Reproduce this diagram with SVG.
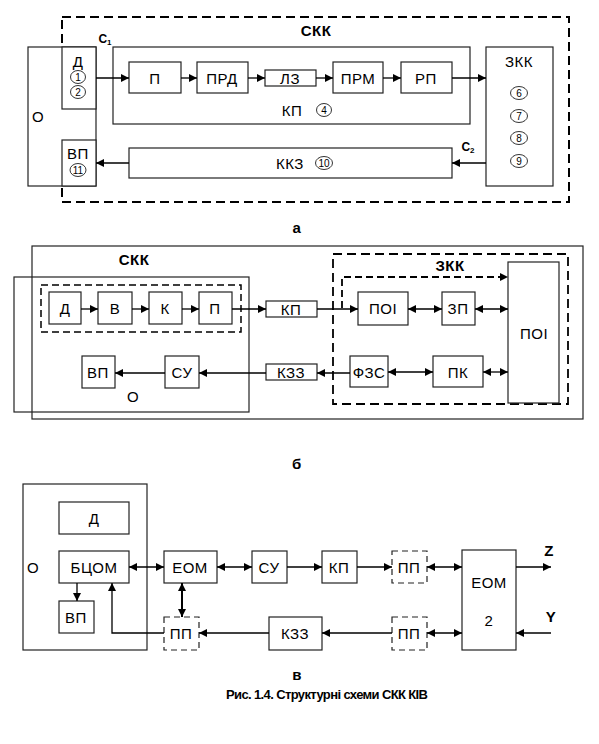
<svg xmlns="http://www.w3.org/2000/svg" width="599" height="744" viewBox="0 0 599 744">
<defs>
<marker id="ah" viewBox="0 0 10 10" refX="10" refY="5" markerWidth="9" markerHeight="8" markerUnits="userSpaceOnUse" orient="auto-start-reverse"><path d="M0,0 L10,5 L0,10 z" fill="#000"/></marker>
<style>
text{font-family:"Liberation Sans",Arial,sans-serif;font-size:15px;letter-spacing:0.5px;fill:#000;text-anchor:middle;dominant-baseline:central}
.b{font-weight:bold}
.n{font-size:10px;letter-spacing:0}
.box{fill:#fff;stroke:#222;stroke-width:1.2}
.dbox{fill:none;stroke:#000;stroke-width:2;stroke-dasharray:9,5}
.dpp{fill:#fff;stroke:#222;stroke-width:1.2;stroke-dasharray:6,4}
.c{fill:#fff;stroke:#000;stroke-width:0.8}
.a{fill:none;stroke:#000;stroke-width:1.3;marker-end:url(#ah)}
.aa{fill:none;stroke:#000;stroke-width:1.3;marker-end:url(#ah);marker-start:url(#ah)}
</style>
</defs>
<rect width="599" height="744" fill="#fff"/>

<!-- ===== Part a ===== -->
<g id="a-skk"><rect class="dbox" x="62" y="17" width="507" height="185"/><text class="b" x="316" y="30">СКК</text></g>
<g id="a-o"><rect class="box" x="28" y="47" width="68" height="139"/><text x="38" y="116">О</text></g>
<g id="a-d"><rect class="box" x="62" y="47" width="34" height="62"/><text x="78" y="61">Д</text>
<ellipse class="c" cx="78" cy="77" rx="7.5" ry="6.5"/><text class="n" x="78" y="77">1</text>
<ellipse class="c" cx="78" cy="92" rx="7.5" ry="6.5"/><text class="n" x="78" y="92">2</text></g>
<g id="a-vp"><rect class="box" x="62" y="140" width="34" height="46"/><text x="78" y="153">ВП</text>
<ellipse class="c" cx="78" cy="170" rx="8" ry="6.5"/><text class="n" x="78" y="170">11</text></g>
<g id="a-kp"><rect class="box" x="113" y="47" width="357" height="77"/><text x="292" y="110">КП</text>
<ellipse class="c" cx="324" cy="110" rx="7.5" ry="6.5"/><text class="n" x="324" y="110">4</text></g>
<g id="a-p"><rect class="box" x="129" y="62" width="52" height="31"/><text x="155" y="78">П</text></g>
<g id="a-prd"><rect class="box" x="197" y="62" width="51" height="31"/><text x="222" y="78">ПРД</text></g>
<g id="a-lz"><rect class="box" x="265" y="70" width="51" height="16"/><text x="290" y="78">ЛЗ</text></g>
<g id="a-prm"><rect class="box" x="333" y="62" width="50" height="31"/><text x="358" y="78">ПРМ</text></g>
<g id="a-rp"><rect class="box" x="401" y="62" width="51" height="31"/><text x="426" y="78">РП</text></g>
<g id="a-zkk"><rect class="box" x="486" y="47" width="67" height="139"/><text x="519" y="61">ЗКК</text>
<ellipse class="c" cx="519" cy="93" rx="8.5" ry="6.5"/><text class="n" x="519" y="93">6</text>
<ellipse class="c" cx="519" cy="116" rx="8.5" ry="6.5"/><text class="n" x="519" y="116">7</text>
<ellipse class="c" cx="519" cy="138" rx="8.5" ry="6.5"/><text class="n" x="519" y="138">8</text>
<ellipse class="c" cx="519" cy="161" rx="8.5" ry="6.5"/><text class="n" x="519" y="161">9</text></g>
<g id="a-kkz"><rect class="box" x="129" y="148" width="323" height="30"/><text x="290" y="163">ККЗ</text>
<ellipse class="c" cx="324" cy="163" rx="8.5" ry="6.5"/><text class="n" x="324" y="163">10</text></g>
<text class="b" x="105" y="39" style="font-size:12px;letter-spacing:0">C<tspan style="font-size:8px" dy="3">1</tspan></text>
<text class="b" x="468" y="147" style="font-size:12px;letter-spacing:0">C<tspan style="font-size:8px" dy="3">2</tspan></text>
<text class="b" x="297" y="227">а</text>

<g id="a-conn">
<path class="a" d="M96,78 H129"/>
<path class="a" d="M181,78 H197"/>
<path class="a" d="M248,78 H265"/>
<path class="a" d="M316,78 H333"/>
<path class="a" d="M383,78 H401"/>
<path class="a" d="M452,78 H486"/>
<path class="a" d="M486,163 H452"/>
<path class="a" d="M129,163 H96"/>
</g>

<!-- ===== Part b ===== -->
<g id="b-skk"><rect class="box" x="32" y="246" width="551" height="173" style="fill:none"/><text class="b" x="134" y="259">СКК</text></g>
<g id="b-o"><rect class="box" x="14" y="277" width="235" height="135" style="fill:none"/><text x="133" y="396">О</text></g>
<rect class="dbox" x="41" y="285" width="200" height="47" style="stroke-width:1.5;stroke-dasharray:7,4"/>
<g id="b-d"><rect class="box" x="49" y="292" width="32" height="32"/><text x="65" y="308">Д</text></g>
<g id="b-v"><rect class="box" x="98" y="292" width="34" height="32"/><text x="115" y="308">В</text></g>
<g id="b-k"><rect class="box" x="149" y="292" width="33" height="32"/><text x="165" y="308">К</text></g>
<g id="b-p"><rect class="box" x="199" y="292" width="33" height="32"/><text x="215" y="308">П</text></g>
<g id="b-kp"><rect class="box" x="266" y="301" width="51" height="16"/><text x="291" y="309">КП</text></g>
<g id="b-vp"><rect class="box" x="82" y="356" width="33" height="32"/><text x="98" y="372">ВП</text></g>
<g id="b-su"><rect class="box" x="165" y="356" width="34" height="32"/><text x="182" y="372">СУ</text></g>
<g id="b-kzz"><rect class="box" x="266" y="364" width="51" height="16"/><text x="291" y="372">КЗЗ</text></g>
<g id="b-zkk"><rect class="dbox" x="333" y="254" width="235" height="150" style="stroke-width:1.8"/><text class="b" x="450" y="265">ЗКК</text></g>
<g id="b-poi-big"><rect class="box" x="508" y="262" width="51" height="141"/><text x="534" y="333">ПОІ</text></g>
<g id="b-poi"><rect class="box" x="358" y="292" width="50" height="33"/><text x="383" y="308">ПОІ</text></g>
<g id="b-zp"><rect class="box" x="442" y="292" width="33" height="33"/><text x="458" y="308">ЗП</text></g>
<g id="b-fzs"><rect class="box" x="350" y="356" width="38" height="31"/><text x="369" y="372">ФЗС</text></g>
<g id="b-pk"><rect class="box" x="433" y="356" width="50" height="31"/><text x="458" y="372">ПК</text></g>
<text class="b" x="297" y="463">б</text>

<g id="b-conn">
<path class="a" d="M81,309 H98"/>
<path class="a" d="M132,309 H149"/>
<path class="a" d="M182,309 H199"/>
<path class="a" d="M232,309 H266"/>
<path class="a" d="M317,309 H358"/>
<path class="aa" d="M408,309 H442"/>
<path class="aa" d="M475,309 H508"/>
<path class="a" d="M342,308 V277 H508" style="stroke-width:1.8;stroke-dasharray:7,4"/>
<path class="a" d="M350,373 H317"/>
<path class="a" d="M266,373 H199"/>
<path class="a" d="M165,373 H115"/>
<path class="aa" d="M388,372 H433"/>
<path class="aa" d="M483,372 H508"/>
</g>

<!-- ===== Part c ===== -->
<g id="c-o"><rect class="box" x="23" y="484" width="124" height="166"/><text x="33" y="567">О</text></g>
<g id="c-d"><rect class="box" x="59" y="502" width="70" height="32"/><text x="94" y="518">Д</text></g>
<g id="c-bcom"><rect class="box" x="59" y="551" width="70" height="32"/><text x="94" y="567">БЦОМ</text></g>
<g id="c-vp"><rect class="box" x="59" y="601" width="35" height="32"/><text x="76" y="617">ВП</text></g>
<g id="c-eom"><rect class="box" x="164" y="551" width="53" height="32"/><text x="190" y="567">ЕОМ</text></g>
<g id="c-su"><rect class="box" x="252" y="551" width="35" height="32"/><text x="269" y="567">СУ</text></g>
<g id="c-kp"><rect class="box" x="322" y="551" width="35" height="32"/><text x="339" y="567">КП</text></g>
<g id="c-pp1"><rect class="dpp" x="392" y="551" width="35" height="32"/><text x="409" y="567">ПП</text></g>
<g id="c-eom2"><rect class="box" x="462" y="550" width="54" height="100"/><text x="489" y="582">ЕОМ</text><text x="489" y="620">2</text></g>
<g id="c-pp2"><rect class="dpp" x="392" y="617" width="35" height="33"/><text x="409" y="633">ПП</text></g>
<g id="c-kzz"><rect class="box" x="269" y="617" width="53" height="33"/><text x="295" y="633">КЗЗ</text></g>
<g id="c-pp3"><rect class="dpp" x="164" y="617" width="35" height="33"/><text x="181" y="633">ПП</text></g>
<text class="b" x="549" y="550">Z</text>
<text class="b" x="551" y="616">Y</text>
<text class="b" x="297" y="674">в</text>

<g id="c-conn">
<path class="a" d="M77,583 V601"/>
<path class="a" d="M164,633 H112 V583"/>
<path class="aa" d="M129,567 H164"/>
<path class="aa" d="M217,567 H252"/>
<path class="a" d="M287,567 H322"/>
<path class="a" d="M357,567 H392"/>
<path class="aa" d="M427,567 H462"/>
<path class="a" d="M516,567 H551"/>
<path class="a" d="M551,633 H516"/>
<path class="aa" d="M427,633 H462"/>
<path class="a" d="M392,633 H322"/>
<path class="a" d="M269,633 H199"/>
<path class="aa" d="M182,583 V617" style="stroke-width:2"/>
</g>

<text class="b" x="327" y="694" textLength="202" lengthAdjust="spacing" style="font-size:13px;letter-spacing:0">Рис. 1.4. Структурні схеми СКК КІВ</text>
</svg>
